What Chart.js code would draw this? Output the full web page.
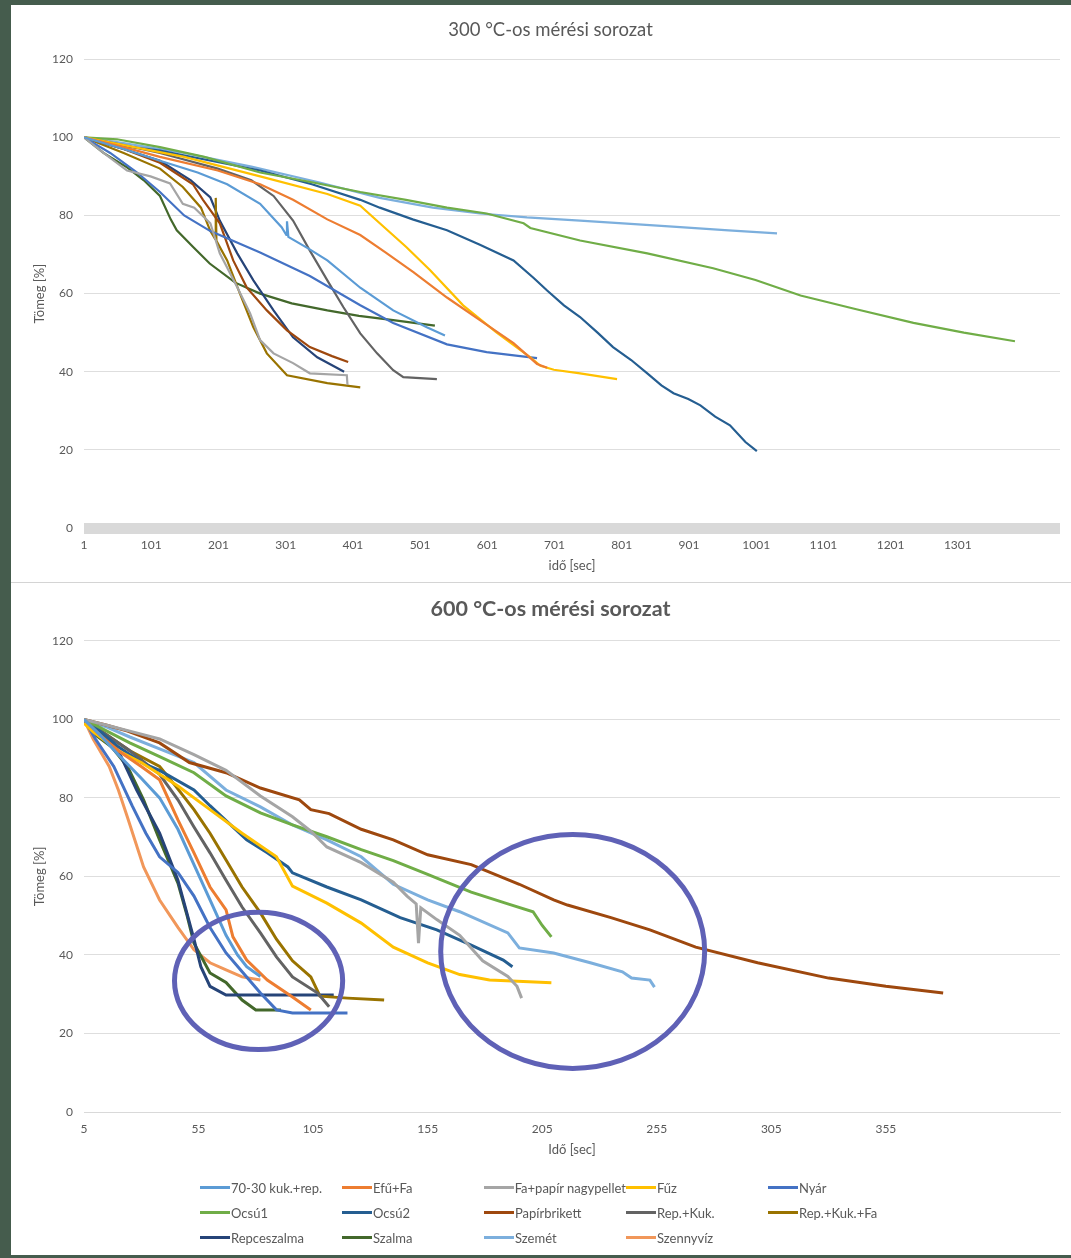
<!DOCTYPE html>
<html>
<head>
<meta charset="utf-8">
<script src="https://cdn.jsdelivr.net/npm/chart.js@4.4.0/dist/chart.umd.min.js"></script>
<style>
  body { margin: 0; background: #455c4d; width: 1071px; height: 1258px; overflow: hidden; }
  #sheet { position: absolute; left: 11px; top: 5px; width: 1060px; height: 1250px; background: #fff; }
  #c300 { position: absolute; left: 0; top: 0; }
  #c600 { position: absolute; left: 0; top: 578px; }
  #sep { position: absolute; left: 0; top: 577px; width: 1060px; height: 1px; background: #d4d4d4; }
  #legend { position: absolute; left: 189px; top: 1170px; display: grid;
            grid-template-columns: repeat(5, 142px); grid-auto-rows: 25px;
            font-family: Lato, sans-serif; font-size: 13px; color: #595959; }
  #legend .item { display: flex; align-items: center; white-space: nowrap; }
  #legend .swatch { width: 30px; height: 3px; margin-right: 1px; }
</style>
</head>
<body>
<div id="sheet">
  <canvas id="c300" width="1060" height="576"></canvas>
  <div id="sep"></div>
  <canvas id="c600" width="1060" height="672"></canvas>
  <div id="legend"></div>
</div>
<script>
// series names and Excel colours (legend order)
const seriesNames = ["70-30 kuk.+rep.", "Efű+Fa", "Fa+papír nagypellet", "Fűz", "Nyár",
  "Ocsú1", "Ocsú2", "Papírbrikett", "Rep.+Kuk.", "Rep.+Kuk.+Fa",
  "Repceszalma", "Szalma", "Szemét", "Szennyvíz"];
const seriesColors = ["#5B9BD5", "#ED7D31", "#A5A5A5", "#FFC000", "#4472C4",
  "#70AD47", "#255E91", "#9E480E", "#636363", "#997300",
  "#264478", "#43682B", "#7CAFDD", "#F1975A"];

// tick labels
const yTicks = [0, 20, 40, 60, 80, 100, 120];
const xTicks300 = [1, 101, 201, 301, 401, 501, 601, 701, 801, 901, 1001, 1101, 1201, 1301];
const xTicks600 = [5, 55, 105, 155, 205, 255, 305, 355];

// ---- 300 °C series: [idő, tömeg %] ----
const t300_7030 = [[1,100],[60,97],[114,94],[170,91],[214,88],[263,83],[295,77],[302,75],[303,78.5],[305,74.5],[335,71.5],[363,68.5],[412,61.5],[461,55.7],[511,51.4],[538,49.3]];
const t300_EfuFa = [[1,100],[60,97.5],[114,95],[200,91.5],[263,88],[312,84],[363,79],[412,75],[450,70.5],[491,65.5],[541,59],[590,53.2],[640,47.3],[675,42],[690,41]];
const t300_FaPapir = [[1,100],[30,96],[65,91.5],[100,90],[129,88.2],[148,83],[165,82],[189,78],[203,70.3],[229,61.6],[248,55],[263,48.1],[283,44.7],[312,42.2],[337,39.6],[392,39.1],[393,36.6]];
const t300_Fuz = [[1,100],[60,98],[150,95],[263,90],[363,85.5],[412,82.5],[441,78],[480,72],[516,66],[565,57],[615,50],[665,43.7],[680,41.5],[700,40.5],[739,39.6],[794,38.1]];
const t300_Nyar = [[1,100],[40,96],[80,91],[114,86],[150,80],[189,76],[263,70.5],[337,64.5],[412,57],[461,52.5],[541,47],[600,45],[675,43.5]];
const t300_Ocsu1 = [[1,100],[50,99.5],[114,97.5],[180,95],[263,91],[340,88.5],[412,86],[480,84],[541,82],[600,80.5],[655,78],[665,76.8],[739,73.6],[839,70.3],[937,66.5],[1000,63.5],[1067,59.5],[1150,56],[1235,52.5],[1310,50],[1386,47.8]];
const t300_Ocsu2 = [[1,100],[50,98],[114,96.6],[190,94],[263,91.5],[340,88],[412,84],[441,82],[490,79],[541,76.2],[590,72.5],[640,68.5],[670,64],[690,60.8],[715,57],[739,54],[765,50],[788,46.3],[815,43],[839,39.6],[860,36.5],[878,34.5],[900,33],[918,31.4],[940,28.5],[962,26.3],[985,22],[1002,19.7]];
const t300_Papir = [[1,100],[60,97],[114,93.5],[163,88],[178,84],[203,78],[223,68.5],[243,61.6],[273,55.7],[303,50.6],[337,46.3],[370,44],[394,42.5]];
const t300_RepKuk = [[1,100],[60,98],[114,96],[200,92],[250,89],[283,85],[312,78.7],[337,71],[363,63.4],[387,56.5],[412,49.8],[437,44.7],[461,40.4],[476,38.6],[526,38.1]];
const t300_RepKukFa = [[1,100],[60,96],[114,92],[148,87.3],[175,82],[189,76],[196,74],[197,84.5],[198,73.5],[214,68.5],[233,60],[253,51.4],[273,44.7],[303,39.1],[363,37.1],[412,36]];
const t300_Repcesz = [[1,100],[60,97],[114,94],[160,89],[189,84.6],[203,78.7],[229,70.3],[253,63.4],[283,55.7],[312,48.8],[348,43.7],[388,40]];
const t300_Szalma = [[1,100],[30,96],[65,92.3],[90,89],[114,85],[130,79],[139,76.2],[163,72],[188,67.7],[226,62.8],[263,60],[310,57.5],[363,55.7],[410,54.3],[461,53.2],[523,51.8]];
const t300_Szemet = [[1,100],[60,98.5],[150,96],[250,92.5],[350,88.5],[441,84.5],[520,82],[590,80.5],[660,79.5],[739,78.7],[820,77.8],[888,77],[960,76.2],[1032,75.4]];

// ---- 600 °C series ----
const b600_7030 = [[5,100],[12,96],[20,91],[30,85],[38,80],[46,72],[53,63],[60,54],[67,45],[72,40],[76,37],[82,34.5]];
const b600_EfuFa = [[5,100],[12,96],[20,92],[30,88],[38,84.6],[46,74.4],[53,66],[60,57.3],[67,51.5],[70,44.6],[76,38.7],[85,33.6],[96,29.3],[104,26]];
const b600_FaPapir = [[5,100],[15,98.5],[25,97],[38,95],[53,91],[67,87],[82,80.5],[96,75.2],[104,71.5],[111,67.5],[126,63.5],[140,58.5],[146,55],[150,53],[151,43],[152,52],[159,49],[169,45],[179,38.5],[190,34.5],[194,32],[196,29]];
const b600_Fuz = [[5,99],[9,96.8],[20,92],[30,89],[46,83],[60,77],[74,71],[89,65],[96,57.5],[111,53.2],[126,48.1],[140,42],[155,38],[169,35],[182,33.6],[209,32.9]];
const b600_Nyar = [[5,100],[10,95],[18,88],[26,78],[32,71],[38,65],[46,61],[53,55],[60,47],[67,40.5],[76,34.4],[82,30.3],[89,26],[96,25.2],[120,25.2]];
const b600_Ocsu1 = [[5,100],[15,97],[25,94],[38,90.5],[53,86.4],[67,80.5],[82,76.2],[96,73.1],[111,70.1],[126,66.8],[140,64],[155,60.5],[174,56],[190,53],[201,51],[205,47.5],[209,44.6]];
const b600_Ocsu2 = [[5,100],[12,97],[20,93],[30,89],[38,87],[53,82],[60,78],[76,69.3],[85,66],[94,62.4],[96,60.9],[111,57.3],[126,54],[143,49.5],[159,46.4],[174,42.5],[188,38.7],[192,37]];
const b600_Papir = [[5,100],[15,98.5],[24,97],[38,94],[51,89],[67,86.4],[82,82.5],[99,79.5],[104,77],[112,76],[126,72],[140,69.3],[155,65.5],[174,63],[195,58],[210,54],[216,52.7],[235,49.5],[252,46.4],[272,42],[299,38],[330,34.1],[355,32],[380,30.3]];
const b600_RepKuk = [[5,100],[15,96],[25,92],[38,86],[46,79.5],[53,72.6],[60,66],[67,59],[74,52.2],[82,45.6],[89,39.5],[96,34.4],[107,30.3],[112,26.8]];
const b600_RepKukFa = [[5,100],[15,96],[25,92],[38,88],[45,83],[53,77],[60,71],[67,64.2],[74,57.3],[82,50.7],[89,44],[96,38.5],[104,34.4],[108,29.5],[120,29],[136,28.5]];
const b600_Repcesz = [[5,100],[12,97],[20,92],[28,82],[38,71],[46,59],[53,44],[56,37],[60,32],[67,29.8],[114,29.8]];
const b600_Szalma = [[5,100],[10,96],[17,93],[24,88],[31,79.5],[38,69.3],[46,58.3],[50,50],[53,43],[60,35.4],[67,33],[74,28.5],[80,26],[91,26]];
const b600_Szemet = [[5,100],[15,98],[25,95.5],[38,92.5],[53,89],[67,82],[82,77.7],[96,73.1],[111,69.3],[126,65],[140,58],[155,54],[169,51],[190,45.6],[195,41.8],[210,40.5],[226,38],[240,35.7],[244,34.1],[252,33.6],[254,31.8]];
const b600_Szenny = [[5,100],[9,95],[13,91],[16,88],[20,82],[24,75],[31,62.4],[38,54],[46,47],[53,41.3],[60,38],[67,36.2],[74,34.4],[82,33.6]];

const series300 = [t300_7030, t300_EfuFa, t300_FaPapir, t300_Fuz, t300_Nyar, t300_Ocsu1, t300_Ocsu2,
  t300_Papir, t300_RepKuk, t300_RepKukFa, t300_Repcesz, t300_Szalma, t300_Szemet, null];
const series600 = [b600_7030, b600_EfuFa, b600_FaPapir, b600_Fuz, b600_Nyar, b600_Ocsu1, b600_Ocsu2,
  b600_Papir, b600_RepKuk, b600_RepKukFa, b600_Repcesz, b600_Szalma, b600_Szemet, b600_Szenny];

// hand-drawn highlight ellipses on the 600 °C chart: [centre x, centre y, radius x, radius y] in data units
const highlights600 = [[81.2, 33.4, 36.7, 17.5], [218.3, 40.9, 57.6, 29.8]];

const textColor = "#595959";
const gridColor = "#dedede";
Chart.defaults.font.family = "Lato, 'Open Sans', sans-serif";
Chart.defaults.color = textColor;

function buildDatasets(list, width) {
  const out = [];
  list.forEach((pts, i) => {
    if (!pts) return;
    out.push({
      label: seriesNames[i],
      data: pts.map(p => ({ x: p[0], y: p[1] })),
      borderColor: seriesColors[i],
      backgroundColor: seriesColors[i],
      borderWidth: width,
      pointRadius: 0,
      tension: 0,
      fill: false,
    });
  });
  return out;
}

// draws the purple ellipses through the chart scales
const ellipsePlugin = {
  id: "ellipses",
  afterDatasetsDraw(chart, args, opts) {
    if (!opts.items) return;
    const { ctx, scales: { x, y } } = chart;
    ctx.save();
    ctx.strokeStyle = opts.color;
    ctx.lineWidth = opts.width;
    opts.items.forEach(([cx, cy, rx, ry]) => {
      const px = x.getPixelForValue(cx);
      const py = y.getPixelForValue(cy);
      const rpx = Math.abs(x.getPixelForValue(cx + rx) - px);
      const rpy = Math.abs(y.getPixelForValue(cy + ry) - py);
      ctx.beginPath();
      ctx.ellipse(px, py, rpx, rpy, 0, 0, Math.PI * 2);
      ctx.stroke();
    });
    ctx.restore();
  }
};

function makeOptions(cfg) {
  return {
    responsive: false,
    animation: false,
    // left padding shifts the chart title centre to the right like the original
    layout: { padding: { left: 30, right: 11, top: 0, bottom: cfg.bottomPad } },
    plugins: {
      legend: { display: false },
      tooltip: { enabled: false },
      title: {
        display: true,
        text: cfg.title,
        color: textColor,
        font: { size: cfg.titleSize, weight: cfg.titleWeight },
        padding: { top: cfg.titleTop, bottom: cfg.titleBottom },
      },
      ellipses: { items: cfg.ellipses, color: "#5F61B6", width: 5 },
    },
    scales: {
      x: {
        type: "linear",
        min: cfg.xMin,
        max: cfg.xMax,
        afterBuildTicks: (axis) => { axis.ticks = cfg.xTicks.map(v => ({ value: v })); },
        afterFit: (axis) => { axis.height = 53; },
        grid: { display: false, drawTicks: false },
        border: { display: cfg.thinAxis, color: "#d9d9d9", width: 1 },
        ticks: { autoSkip: false, maxRotation: 0, padding: 10, font: { size: 12 }, color: textColor,
                 callback: (v) => String(v) },
        title: { display: true, text: cfg.xTitle, color: textColor, font: { size: 13 },
                 padding: { top: 0, bottom: 7 } },
      },
      y: {
        min: 0,
        max: 120,
        afterBuildTicks: (axis) => { axis.ticks = yTicks.map(v => ({ value: v })); },
        afterFit: (axis) => { axis.width = 43; },
        grid: {
          color: (c) => (c.tick && c.tick.value === 0 ? "#d9d9d9" : gridColor),
          lineWidth: (c) => (c.tick && c.tick.value === 0 ? cfg.zeroWidth : 1),
          drawTicks: false,
        },
        border: { display: false },
        ticks: { padding: 11, font: { size: 12 }, color: textColor },
        title: { display: true, text: "Tömeg [%]", color: textColor, font: { size: 13 },
                 padding: { top: -9, bottom: 0 } },
      },
    },
  };
}

const chart300 = new Chart(document.getElementById("c300"), {
  type: "line",
  data: { datasets: buildDatasets(series300, 2.2) },
  options: makeOptions({
    title: "300 °C-os mérési sorozat", titleSize: 18.5, titleWeight: "normal",
    titleTop: 14, titleBottom: 18, bottomPad: 0,
    xMin: 1, xMax: 1453, xTicks: xTicks300, xTitle: "idő [sec]",
    thinAxis: false, zeroWidth: 11, ellipses: null,
  }),
  plugins: [ellipsePlugin],
});

const chart600 = new Chart(document.getElementById("c600"), {
  type: "line",
  data: { datasets: buildDatasets(series600, 3) },
  options: makeOptions({
    title: "600 °C-os mérési sorozat", titleSize: 21.5, titleWeight: "bold",
    titleTop: 13, titleBottom: 19, bottomPad: 90,
    xMin: 5, xMax: 431, xTicks: xTicks600, xTitle: "Idő [sec]",
    thinAxis: true, zeroWidth: 1, ellipses: highlights600,
  }),
  plugins: [ellipsePlugin],
});

// legend as a 5-column grid, built from the 600 °C datasets
const legendBox = document.getElementById("legend");
chart600.data.datasets.forEach(ds => {
  const item = document.createElement("div");
  item.className = "item";
  const sw = document.createElement("span");
  sw.className = "swatch";
  sw.style.background = ds.borderColor;
  const tx = document.createElement("span");
  tx.textContent = ds.label;
  item.appendChild(sw);
  item.appendChild(tx);
  legendBox.appendChild(item);
});
</script>
</body>
</html>
